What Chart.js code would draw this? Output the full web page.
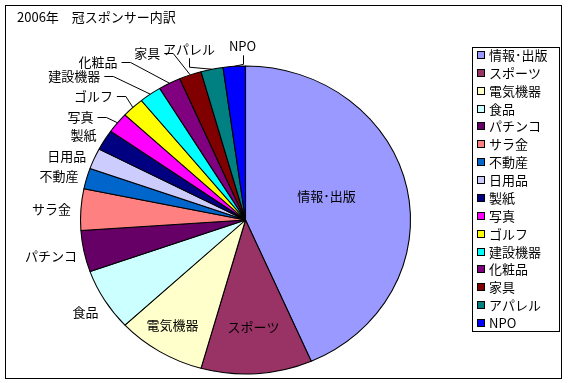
<!DOCTYPE html>
<html lang="ja">
<head>
<meta charset="utf-8">
<title>2006年 冠スポンサー内訳</title>
<script src="https://cdn.jsdelivr.net/npm/chart.js@4.4.1/dist/chart.umd.min.js"></script>
<style>
  html, body { margin: 0; padding: 0; background: #fff; }
  canvas { display: block; }
</style>
</head>
<body>
<canvas id="sponsorChart" width="568" height="383"></canvas>
<script>
// 2006年 冠スポンサー 業種別件数
const categories = ['情報･出版', 'スポーツ', '電気機器', '食品', 'パチンコ', 'サラ金', '不動産', '日用品',
                    '製紙', '写真', 'ゴルフ', '建設機器', '化粧品', '家具', 'アパレル', 'NPO'];
const counts = [40, 10, 8, 6, 4, 4, 2, 2, 2, 2, 2, 2, 2, 2, 2, 2];
const sliceColors = ['#9999FF', '#993366', '#FFFFCC', '#CCFFFF', '#660066', '#FF8080', '#0066CC', '#CCCCFF',
                     '#000080', '#FF00FF', '#FFFF00', '#00FFFF', '#800080', '#800000', '#008080', '#0000FF'];

// ラベル位置の微調整（円周上の基準点からのずれ）
const labelNudge = [[-32, -2], [0, 0], [-13, 13], [-6, 12], [-7, 5], [-10, 0], [-8, -2], [-8, -3],
                    [-8, -5], [-24, -6], [-20, -11], [-50, -18], [-52, -21], [-30, -22], [3, -20], [22, -20]];
const insideCount = 3;
const stretchX = 165 / 154;   // Excelの円グラフは少し横長
const FONT = '13px "Noto Sans CJK JP", "Noto Sans", sans-serif';

// 円を横に引き伸ばす
const ellipsePie = {
    id: 'ellipsePie',
    beforeDatasetsDraw(chart) {
        const arc = chart.getDatasetMeta(0).data[0];
        const ctx = chart.ctx;
        ctx.save();
        ctx.translate(arc.x, arc.y);
        ctx.scale(stretchX, 1);
        ctx.translate(-arc.x, -arc.y);
    },
    afterDatasetsDraw(chart) {
        chart.ctx.restore();
    }
};

// ラベル・引き出し線・凡例・枠・タイトル
const pieDecor = {
    id: 'pieDecor',
    afterDraw(chart) {
        const ctx = chart.ctx;
        const meta = chart.getDatasetMeta(0);
        ctx.save();
        ctx.font = FONT;
        ctx.fillStyle = '#000';
        ctx.strokeStyle = '#000';
        ctx.lineWidth = 1;
        ctx.textBaseline = 'middle';

        meta.data.forEach((arc, i) => {
            const a = (arc.startAngle + arc.endAngle) / 2;
            const cos = Math.cos(a), sin = Math.sin(a);
            const [dx, dy] = labelNudge[i];
            if (i < insideCount) {
                const r = arc.outerRadius * 0.7;
                ctx.textAlign = 'center';
                ctx.fillText(categories[i], arc.x + r * cos * stretchX + dx, arc.y + r * sin + dy);
                return;
            }
            const ex = arc.x + arc.outerRadius * cos * stretchX;
            const ey = arc.y + arc.outerRadius * sin;
            const tx = ex + dx, ty = ey + dy;
            ctx.textAlign = 'right';
            ctx.fillText(categories[i], tx, ty);
            if (Math.hypot(dx, dy) > 18) {
                ctx.beginPath();
                if (dx < 0) {
                    const ly = Math.round(ty) + 0.5;
                    ctx.moveTo(tx + 4, ly);
                    ctx.lineTo(tx + 13, ly);
                    ctx.lineTo(ex, ey);
                } else {
                    const w = ctx.measureText(categories[i]).width;
                    const lx = Math.round(tx - w / 2) + 0.5;
                    ctx.moveTo(lx, ty + 9);
                    ctx.lineTo(lx, ey - 2);
                    ctx.lineTo(ex, ey);
                }
                ctx.stroke();
            }
        });

        // 外枠
        ctx.strokeRect(5.5, 5.5, 556, 373);

        // タイトル
        ctx.textAlign = 'left';
        ctx.fillText('2006年　冠スポンサー内訳', 17, 17);

        // 凡例
        ctx.strokeRect(472.5, 47.5, 87, 284);
        categories.forEach((name, i) => {
            const y = Math.round(55 + i * 17.87);
            ctx.fillStyle = sliceColors[i];
            ctx.fillRect(477, y - 4, 7, 7);
            ctx.strokeRect(477.5, y - 3.5, 7, 7);
            ctx.fillStyle = '#000';
            ctx.fillText(name, 489, y);
        });
        ctx.restore();
    }
};

window.addEventListener('load', () => {
    const ctx = document.getElementById('sponsorChart').getContext('2d');
    new Chart(ctx, {
        type: 'pie',
        data: {
            labels: categories,
            datasets: [{
                data: counts,
                backgroundColor: sliceColors,
                borderColor: '#000',
                borderWidth: 1,
                radius: 154
            }]
        },
        options: {
            responsive: false,
            animation: false,
            layout: { padding: { left: 80, right: 157, top: 66, bottom: 9 } },
            plugins: {
                legend: { display: false },
                tooltip: { enabled: false },
                title: { display: false }
            }
        },
        plugins: [ellipsePie, pieDecor]
    });
});
</script>
</body>
</html>
